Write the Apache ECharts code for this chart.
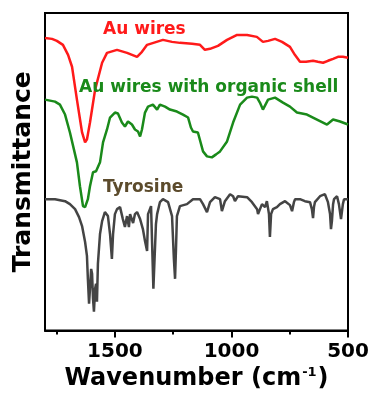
<!DOCTYPE html>
<html>
<head>
<meta charset="utf-8">
<script src="https://cdn.jsdelivr.net/npm/echarts@6/dist/echarts.min.js"></script>
<style>html,body{margin:0;padding:0;background:#fff}#c{width:372px;height:396px}</style>
</head>
<body>
<div id="c"></div>
<script>
// Wavenumber (cm-1) and transmittance (arbitrary units, curves offset)
var auWn = [1800,1770,1749,1723,1701,1684,1663,1641,1628,1620,1607,1585,1555,1534,1491,1448,1405,1384,1362,1294,1255,1221,1169,1135,1114,1092,1058,1019,976,933,891,865,843,813,783,749,728,706,680,650,629,607,586,564,543,522,500];
var auT  = [294,293,291,287,277,265,232,199,189,192,209,242,269,279,282,279,275,280,287,292,290,289,288,287,282,283,286,292,297,297,295,290,291,293,290,285,277,270,270,271,270,269,271,273,275,275,274];

var shellWn = [1800,1757,1736,1714,1693,1676,1663,1650,1637,1628,1616,1607,1594,1581,1573,1564,1551,1534,1521,1500,1487,1470,1457,1444,1427,1414,1401,1392,1384,1371,1358,1337,1319,1307,1285,1264,1234,1208,1186,1174,1165,1144,1122,1105,1084,1066,1049,1019,993,963,933,912,890,878,865,843,813,779,749,719,676,633,590,564,534,500];
var shellT  = [232,230,227,217,199,182,169,145,125,124,132,145,159,160,160,169,189,202,214,219,218,209,205,210,207,202,200,195,202,219,225,227,222,227,225,222,220,217,214,204,200,199,180,175,174,177,180,190,209,227,234,235,234,229,222,232,234,229,225,219,217,212,207,212,210,207];

var tyrWn = [1800,1757,1714,1693,1671,1654,1641,1628,1620,1616,1611,1607,1602,1598,1594,1590,1585,1581,1577,1573,1564,1555,1543,1530,1521,1513,1508,1500,1491,1478,1466,1457,1448,1440,1435,1422,1414,1405,1392,1380,1371,1362,1358,1345,1335,1324,1319,1307,1294,1272,1255,1247,1242,1238,1234,1221,1191,1165,1135,1122,1105,1092,1071,1049,1041,1028,1006,993,985,972,933,912,890,886,869,856,848,839,835,830,822,805,792,770,749,740,732,727,706,685,663,655,650,646,642,620,599,586,577,573,569,564,560,547,539,530,526,522,517,500];
var tyrT  = [132,132,130,127,122,114,105,89,75,52,27,42,62,57,32,19,42,47,29,67,97,110,119,115,97,72,97,117,122,124,112,104,115,104,117,108,117,119,112,102,90,80,117,125,42,107,117,129,132,129,115,72,52,82,115,125,127,132,132,127,119,129,134,132,120,130,137,135,130,135,134,129,122,117,127,124,130,117,94,117,122,124,127,130,126,120,129,132,132,130,129,122,113,124,129,135,137,129,117,102,110,127,132,135,127,112,112,127,132,132];

var majorTicks = [500, 1000, 1500];
var minorTicks = [750, 1250, 1750];

var seriesNames = ['Au wires', 'Au wires with organic shell', 'Tyrosine'];
var lineColors = ['#ff1a1a', '#1a8a1a', '#444444'];
var labelColors = ['#ff1a1a', '#1a8a1a', '#5c4b2c'];

function zip(a, b) { return a.map(function (v, i) { return [v, b[i]]; }); }

var FONT = '"DejaVu Sans", Arial, sans-serif';
var chart = echarts.init(document.getElementById('c'), null, { renderer: 'canvas' });
chart.setOption({
  animation: false,
  grid: { left: 45, right: 24, top: 13, bottom: 64, show: true, borderColor: '#000', borderWidth: 2, backgroundColor: 'transparent' },
  xAxis: [{
    type: 'value', inverse: true, min: 500, max: 1800, position: 'bottom',
    axisLine: { show: true, lineStyle: { color: '#000', width: 2 } },
    axisTick: { show: true, length: 7, inside: false, lineStyle: { color: '#000', width: 2 }, customValues: majorTicks },
    axisLabel: { customValues: majorTicks, formatter: function (v) { return String(v); }, color: '#000', fontSize: 20, fontWeight: 'bold', fontFamily: FONT, margin: 11 },
    splitLine: { show: false },
    name: '{a|Wavenumber (cm}{s|-1}{a|)}', nameLocation: 'middle', nameGap: 35,
    nameTextStyle: { rich: {
      a: { fontSize: 24, fontWeight: 'bold', fontFamily: FONT, color: '#000' },
      s: { fontSize: 13, fontWeight: 'bold', fontFamily: FONT, color: '#000', padding: [0, 1, 12, 1] }
    } }
  }, {
    type: 'value', inverse: true, min: 500, max: 1800, position: 'bottom',
    axisLine: { show: false },
    axisTick: { show: true, length: 4, inside: false, lineStyle: { color: '#000', width: 2 }, customValues: minorTicks },
    axisLabel: { show: false }, splitLine: { show: false }
  }],
  yAxis: {
    type: 'value', min: 0, max: 319,
    axisLine: { show: false }, axisTick: { show: false }, axisLabel: { show: false }, splitLine: { show: false },
    name: 'Transmittance', nameLocation: 'middle', nameGap: 9, nameRotate: 90,
    nameTextStyle: { fontSize: 25, fontWeight: 'bold', fontFamily: FONT, color: '#000' }
  },
  series: [
    { name: seriesNames[0], type: 'line', xAxisIndex: 0, data: zip(auWn, auT), showSymbol: false, symbol: 'none', lineStyle: { color: lineColors[0], width: 2.5 }, z: 3 },
    { name: seriesNames[1], type: 'line', xAxisIndex: 0, data: zip(shellWn, shellT), showSymbol: false, symbol: 'none', lineStyle: { color: lineColors[1], width: 2.5 }, z: 2 },
    { name: seriesNames[2], type: 'line', xAxisIndex: 0, data: zip(tyrWn, tyrT), showSymbol: false, symbol: 'none', lineStyle: { color: lineColors[2], width: 2.5 }, z: 1 }
  ],
  graphic: [
    { type: 'text', left: 103, top: 21, z: 10, style: { text: seriesNames[0], fill: labelColors[0], font: 'bold 17px ' + FONT } },
    { type: 'text', left: 79, top: 79, z: 10, style: { text: seriesNames[1], fill: labelColors[1], font: 'bold 17px ' + FONT } },
    { type: 'text', left: 103, top: 179, z: 10, style: { text: seriesNames[2], fill: labelColors[2], font: 'bold 17px ' + FONT } }
  ]
});
</script>
</body>
</html>
